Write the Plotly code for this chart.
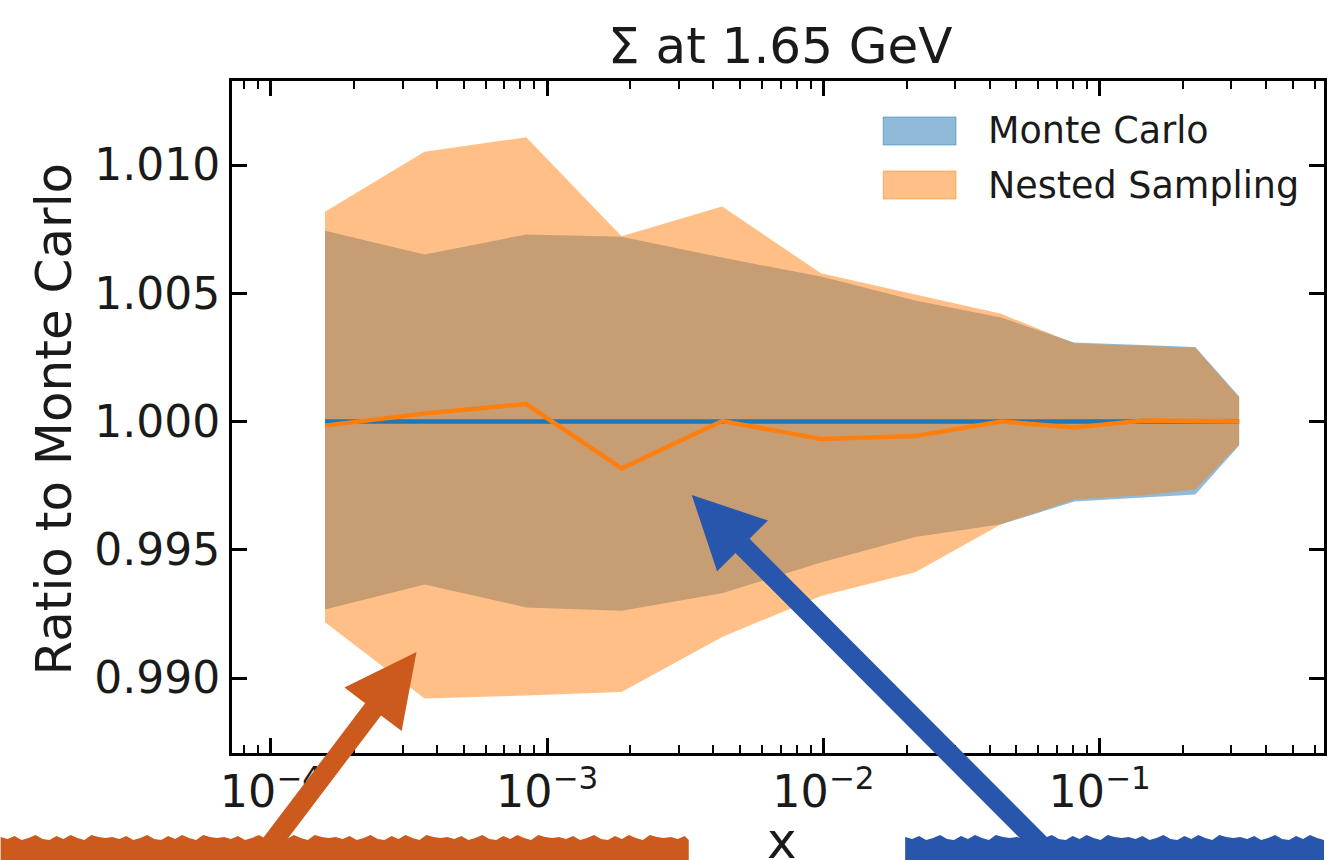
import plotly.graph_objects as go

# ---------------- data ----------------
x_vals = [1.57e-4, 3.6e-4, 8.4e-4, 1.86e-3, 4.3e-3, 9.8e-3, 2.15e-2, 4.4e-2, 8.1e-2, 0.145, 0.222, 0.32]
mc_central = [1.0, 1.0, 1.0, 1.0, 1.0, 1.0, 1.0, 1.0, 1.0, 1.0, 1.0, 1.0]
mc_upper = [1.00744, 1.00651, 1.00729, 1.00720, 1.00639, 1.00565, 1.00472, 1.00405, 1.00308, 1.00298, 1.00290, 1.00097]
mc_lower = [0.99267, 0.99365, 0.99275, 0.99262, 0.99330, 0.99450, 0.99550, 0.99599, 0.99688, 0.99703, 0.99715, 0.99906]
ns_central = [0.99984, 1.00031, 1.00068, 0.99817, 1.00002, 0.99932, 0.99943, 1.00000, 0.99977, 1.00004, 1.00002, 1.00000]
ns_upper = [1.00818, 1.01052, 1.01108, 1.00722, 1.00838, 1.00578, 1.00495, 1.00420, 1.00304, 1.00296, 1.00288, 1.00094]
ns_lower = [0.99217, 0.98920, 0.98932, 0.98945, 0.99160, 0.99320, 0.99412, 0.99599, 0.99696, 0.99712, 0.99735, 0.99910]

y_ticks = [0.990, 0.995, 1.000, 1.005, 1.010]
title_text = "Σ at 1.65 GeV"
x_label = "x"
y_label = "Ratio to Monte Carlo"
legend_names = ["Monte Carlo", "Nested Sampling"]

# ---------------- style ----------------
W, H = 1327, 860
L, R, T, B = 232, 1327, 81, 753
FONT = "DejaVu Sans"
BLUE = "#1f77b4"
ORANGE = "#ff7f0e"
BLUE_FILL = "rgba(31,119,180,0.5)"
ORANGE_FILL = "rgba(255,127,14,0.5)"
ARROW_ORANGE = "#CC5A1C"
ARROW_BLUE = "#2756AC"


def px(xp):
    return (xp - L) / (R - L)


def py(yp):
    return (B - yp) / (B - T)


fig = go.Figure()

# Monte Carlo band
fig.add_trace(go.Scatter(x=x_vals, y=mc_lower, mode="lines", line=dict(width=0),
                         showlegend=False, hoverinfo="skip"))
fig.add_trace(go.Scatter(x=x_vals, y=mc_upper, mode="lines", line=dict(width=0),
                         fill="tonexty", fillcolor=BLUE_FILL, name=legend_names[0],
                         showlegend=False, hoverinfo="skip"))
# Nested Sampling band
fig.add_trace(go.Scatter(x=x_vals, y=ns_lower, mode="lines", line=dict(width=0),
                         showlegend=False, hoverinfo="skip"))
fig.add_trace(go.Scatter(x=x_vals, y=ns_upper, mode="lines", line=dict(width=0),
                         fill="tonexty", fillcolor=ORANGE_FILL, name=legend_names[1],
                         showlegend=False, hoverinfo="skip"))
# central lines
fig.add_trace(go.Scatter(x=x_vals, y=mc_central, mode="lines", line=dict(color=BLUE, width=4.5),
                         showlegend=False, hoverinfo="skip"))
fig.add_trace(go.Scatter(x=x_vals, y=ns_central, mode="lines", line=dict(color=ORANGE, width=4.5),
                         showlegend=False, hoverinfo="skip"))

shapes = []
annotations = []

# manual legend
for i, (name, col) in enumerate(zip(legend_names, [BLUE_FILL, ORANGE_FILL])):
    y0 = 117 + i * 54
    shapes.append(dict(type="rect", xref="paper", yref="paper",
                       x0=px(885), x1=px(958), y0=py(y0 + 28), y1=py(y0),
                       fillcolor=col, line=dict(width=1, color=col), layer="above"))
    annotations.append(dict(text=name, xref="paper", yref="paper", x=px(988), y=py(y0 + 14),
                            xanchor="left", yanchor="middle", showarrow=False,
                            font=dict(family=FONT, size=36.5, color="#1a1a1a")))

# title / axis labels
annotations.append(dict(text=title_text, xref="paper", yref="paper", x=px(782), y=py(46),
                        xanchor="center", yanchor="middle", showarrow=False,
                        font=dict(family=FONT, size=50, color="#1a1a1a")))
annotations.append(dict(text=y_label, xref="paper", yref="paper", x=px(54), y=py(419),
                        xanchor="center", yanchor="middle", showarrow=False, textangle=-90,
                        font=dict(family=FONT, size=50, color="#1a1a1a")))
annotations.append(dict(text=x_label, xref="paper", yref="paper", x=px(784), y=py(841),
                        xanchor="center", yanchor="middle", showarrow=False,
                        font=dict(family=FONT, size=50, color="#1a1a1a")))

# brush-like bars at the bottom
jag = [0, 2, -1, 3, 1, -2, 2, 3, -1, 2, -2, 1, 3, -2, 0, 1]


def bar_path(x0, x1, ytop, ybot):
    pts = []
    n = int((x1 - x0) / 7) + 1
    for k in range(n + 1):
        xx = min(x0 + k * 7, x1)
        pts.append((xx, ytop + jag[k % len(jag)]))
    d = "M %.5f,%.5f" % (px(x0), py(ybot))
    for (xx, yy) in pts:
        d += " L %.5f,%.5f" % (px(xx), py(yy))
    d += " L %.5f,%.5f Z" % (px(x1), py(ybot))
    return d


shapes.append(dict(type="path", xref="paper", yref="paper", path=bar_path(0, 690, 837, 870),
                   fillcolor=ARROW_ORANGE, line=dict(width=0), layer="above"))
shapes.append(dict(type="path", xref="paper", yref="paper", path=bar_path(907, 1327, 837, 870),
                   fillcolor=ARROW_BLUE, line=dict(width=0), layer="above"))


def arrow_path(tip, toward, tail_y, head_len=72, head_half=36, shaft_half=10):
    tx, ty = tip
    dx, dy = toward[0] - tx, toward[1] - ty
    n = (dx * dx + dy * dy) ** 0.5
    dx, dy = dx / n, dy / n
    nx, ny = -dy, dx
    bx, by = tx + head_len * dx, ty + head_len * dy
    t = (tail_y - by) / dy
    ex, ey = bx + t * dx, by + t * dy
    pts = [
        (tx, ty),
        (bx + head_half * nx, by + head_half * ny),
        (bx + shaft_half * nx, by + shaft_half * ny),
        (ex + shaft_half * nx, ey + shaft_half * ny),
        (ex - shaft_half * nx, ey - shaft_half * ny),
        (bx - shaft_half * nx, by - shaft_half * ny),
        (bx - head_half * nx, by - head_half * ny),
    ]
    d = "M " + " L ".join("%.5f,%.5f" % (px(a), py(b)) for a, b in pts) + " Z"
    return d


shapes.append(dict(type="path", xref="paper", yref="paper",
                   path=arrow_path((417, 652), (272, 843), 866),
                   fillcolor=ARROW_ORANGE, line=dict(width=0), layer="above"))
shapes.append(dict(type="path", xref="paper", yref="paper",
                   path=arrow_path((693, 495), (1038, 840), 866),
                   fillcolor=ARROW_BLUE, line=dict(width=0), layer="above"))

fig.update_layout(
    width=W, height=H,
    margin=dict(l=L, r=W - R, t=T, b=H - B, pad=0),
    paper_bgcolor="white", plot_bgcolor="white",
    showlegend=False,
    shapes=shapes, annotations=annotations,
    font=dict(family=FONT, color="#1a1a1a"),
)

fig.update_xaxes(
    type="log", range=[-4.1408, -0.1877], dtick=1, tick0=0,
    exponentformat="power", showexponent="all",
    showgrid=False, zeroline=False,
    showline=True, linecolor="black", linewidth=3, mirror="allticks",
    ticks="inside", ticklen=15, tickwidth=2.5, tickcolor="black",
    tickfont=dict(family=FONT, size=35.5, color="#1a1a1a"),
    ticklabelstandoff=0,
    minor=dict(ticks="inside", ticklen=8, tickwidth=2, tickcolor="black", dtick="D1", showgrid=False),
)
fig.update_yaxes(
    range=[0.987076, 1.013275], tickvals=y_ticks, tickformat=".3f",
    showgrid=False, zeroline=False,
    showline=True, linecolor="black", linewidth=3, mirror="allticks",
    ticks="inside", ticklen=15, tickwidth=2.5, tickcolor="black",
    tickfont=dict(family=FONT, size=44, color="#1a1a1a"),
    ticklabelstandoff=0,
)

fig.update_xaxes(ticklabelshift=0)

fig.write_html("out.html")
